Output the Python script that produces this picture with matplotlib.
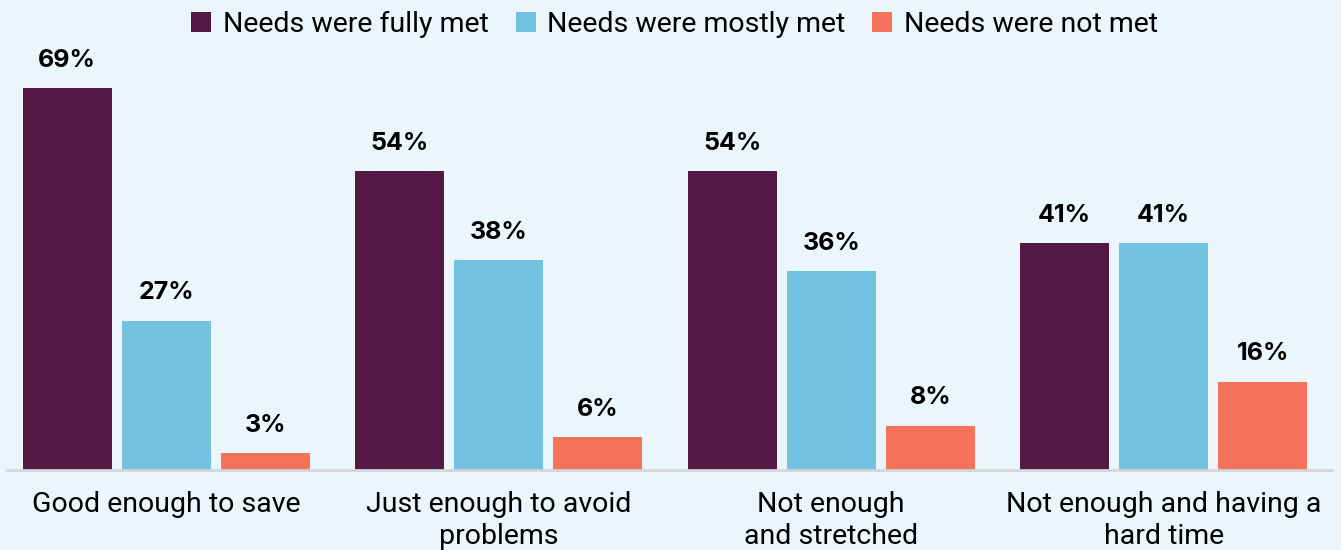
import matplotlib.pyplot as plt
import numpy as np

plt.rcParams['font.family'] = ['Roboto', 'DejaVu Sans']

# data
categories = ['Good enough to save', 'Just enough to avoid\nproblems',
              'Not enough\nand stretched', 'Not enough and having a\nhard time']
series_names = ['Needs were fully met', 'Needs were mostly met', 'Needs were not met']
fully_met = [69, 54, 54, 41]
mostly_met = [27, 38, 36, 41]
not_met = [3, 6, 8, 16]

colors = ['#541845', '#74C2E2', '#F4735A']
bg = '#EAF5FC'

fig = plt.figure(figsize=(13.41, 5.5), dpi=100, facecolor=bg)
ax = fig.add_axes([0.005, 80 / 550, 0.988, 390 / 550])
ax.set_facecolor(bg)

x = np.arange(len(categories))
width = 0.268
step = 0.298
for i, (vals, name) in enumerate(zip([fully_met, mostly_met, not_met], series_names)):
    bars = ax.bar(x + (i - 1) * step, vals, width, color=colors[i], label=name)
    for b, v in zip(bars, vals):
        ax.annotate(f'{v}%', (b.get_x() + b.get_width() / 2, v),
                    xytext=(0, 20), textcoords='offset points',
                    ha='center', va='center', fontsize=18, fontweight='bold',
                    family=['Inter', 'DejaVu Sans'])

ax.set_xlim(-0.48, 3.505)
ax.set_ylim(0, 390 / 5.53)
ax.set_xticks(x)
ax.set_xticklabels(categories, fontsize=20.5, linespacing=1.25)
ax.tick_params(axis='x', length=0, pad=15)
ax.set_yticks([])
for s in ['top', 'right', 'left']:
    ax.spines[s].set_visible(False)
ax.spines['bottom'].set_color('#D3D6D9')
ax.spines['bottom'].set_linewidth(2)

fig.legend(loc='upper center', bbox_to_anchor=(0.503, 1.026), ncol=3, frameon=False,
           fontsize=20.5, handlelength=0.7, handleheight=0.7, handletextpad=0.4,
           columnspacing=0.95)

fig.savefig('out.png', dpi=100, facecolor=bg)
